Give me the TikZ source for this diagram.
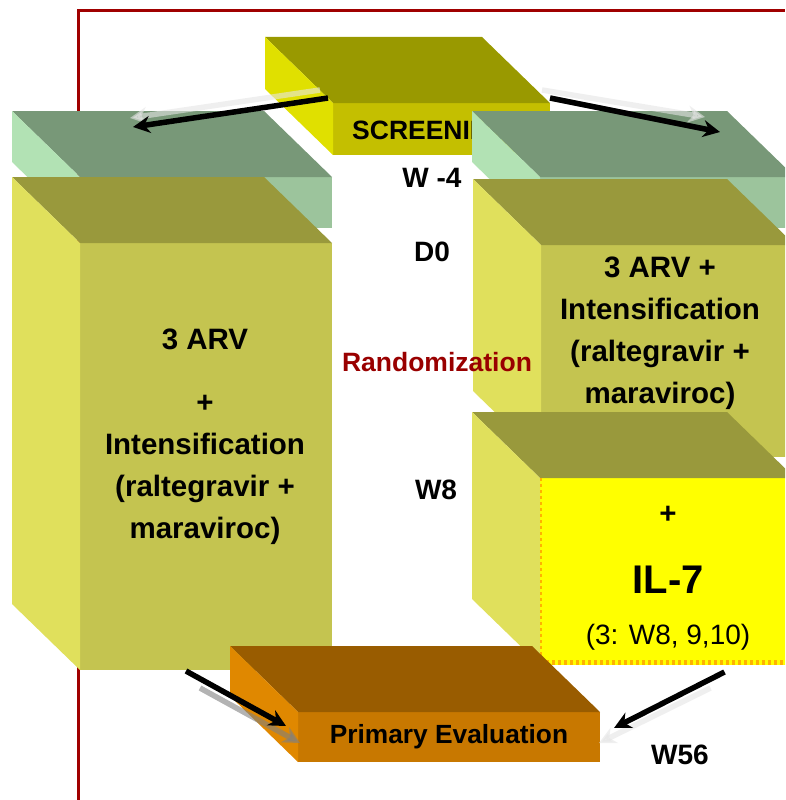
\documentclass[tikz,border=0pt]{standalone}
\usepackage{fontspec}
\setmainfont{Liberation Sans}
\usetikzlibrary{arrows.meta}

\definecolor{frameRed}{HTML}{A00000}
\definecolor{randRed}{HTML}{990000}
\definecolor{scrTop}{HTML}{999900}
\definecolor{scrFront}{HTML}{C4BF00}
\definecolor{scrSide}{HTML}{E0E000}
\definecolor{grnTop}{HTML}{789878}
\definecolor{grnFront}{HTML}{9CC49C}
\definecolor{grnSide}{HTML}{B2E2B4}
\definecolor{olvTop}{HTML}{99993C}
\definecolor{olvFront}{HTML}{C4C450}
\definecolor{olvSide}{HTML}{E0E05C}
\definecolor{ilFront}{HTML}{FFFF00}
\definecolor{brnTop}{HTML}{995C00}
\definecolor{brnFront}{HTML}{C87800}
\definecolor{brnSide}{HTML}{E08800}

% top and left side of a box whose front face is node #1
\newcommand{\cubefaces}[3]{%
  \fill[#2] (#1.north west) -- (#1.north east) -- ++(-68,-66)
    -- ([shift={(-68,-66)}]#1.north west) -- cycle;
  \fill[#3] (#1.north west) -- ([shift={(-68,-66)}]#1.north west)
    -- ([shift={(-68,-66)}]#1.south west) -- (#1.south west) -- cycle;
}

\begin{document}
\begin{tikzpicture}[x=1pt,y=-1pt]
  \tikzstyle{face}=[rectangle, draw=none, inner sep=0pt, outer sep=0pt]
  \tikzstyle{armtext}=[align=center, inner sep=0pt, font=\fontsize{29.5}{42}\selectfont\bfseries]
  \tikzstyle{timelabel}=[inner sep=0pt, font=\fontsize{28}{30}\selectfont\bfseries]
  \tikzstyle{arrow}=[-{Stealth[length=17pt,width=17pt]}, line width=5.5pt, black]
  \tikzstyle{shadowarrow}=[-{Stealth[length=17pt,width=17pt]}, line width=5.5pt, white!80!gray, opacity=0.6]
  \clip (0,0) rectangle (785,800);

  % frame
  \draw[frameRed, line width=3pt] (78,800) -- (78,11) -- (785,11);

  % screening
  \node[face, fill=scrFront, minimum width=217pt, minimum height=52pt] (scr) at (441.5,129) {};
  \cubefaces{scr}{scrTop}{scrSide}
  \node[anchor=west, inner sep=0pt, font=\fontsize{26.5}{30}\selectfont\bfseries] (scrtxt) at (352,130) {SCREENING};

  % run-in boxes
  \node[face, fill=grnFront, minimum width=252pt, minimum height=51pt] (greenL) at (206,202.5) {};
  \cubefaces{greenL}{grnTop}{grnSide}
  \node[face, fill=grnFront, minimum width=255pt, minimum height=51pt] (greenR) at (667.5,202.5) {};
  \cubefaces{greenR}{grnTop}{grnSide}

  % arm A
  \node[face, fill=olvFront, minimum width=252pt, minimum height=427pt] (armA) at (206,456.5) {};
  \cubefaces{armA}{olvTop}{olvSide}
  \node[armtext] (armAtxt) at (205,437) {3 ARV\\[21pt]+\\Intensification\\(raltegravir +\\maraviroc)};

  % arm B
  \node[face, fill=olvFront, minimum width=254pt, minimum height=212pt] (armB) at (668,351) {};
  \cubefaces{armB}{olvTop}{olvSide}
  \node[armtext] (armBtxt) at (660,333) {3 ARV +\\Intensification\\(raltegravir +\\maraviroc)};

  % IL-7
  \node[face, fill=ilFront, minimum width=255pt, minimum height=187pt] (il7) at (667.5,571.5) {};
  \cubefaces{il7}{olvTop}{olvSide}
  \draw[orange!60!yellow, line width=1.5pt, dash pattern=on 3pt off 3pt] ([xshift=1pt]il7.north west) -- ([xshift=1pt]il7.south west);
  \draw[orange!60!yellow, line width=5pt, dash pattern=on 3pt off 3pt] ([yshift=2.5pt]il7.south west) -- ([yshift=2.5pt]il7.south east);
  \node[armtext] (il7plus) at (668,515) {+};
  \node[inner sep=0pt, font=\fontsize{40}{44}\selectfont\bfseries] (il7txt) at (668,580) {IL-7};
  \node[inner sep=0pt, font=\fontsize{28}{30}\selectfont] (il7wk) at (668,637) {(3: W8, 9,10)};

  % primary evaluation
  \node[face, fill=brnFront, minimum width=302pt, minimum height=50pt] (eval) at (449,737) {};
  \cubefaces{eval}{brnTop}{brnSide}
  \node[inner sep=0pt, font=\fontsize{26.3}{30}\selectfont\bfseries] (evaltxt) at (eval.center) {Primary Evaluation};

  % time points
  \node[timelabel] (wm4) at (432,178) {W -4};
  \node[timelabel] (d0) at (432,252) {D0};
  \node[timelabel, text=randRed, font=\fontsize{26.5}{30}\selectfont\bfseries] (rand) at (437,362) {Randomization};
  \node[timelabel] (w8) at (436,490) {W8};
  \node[timelabel] (w56) at (680,755) {W56};

  % arrows
  \path[shadowarrow] ([shift={(-13,-13)}]scr.north west) edge ([shift={(50,-59)}]greenL.north west);
  \path[shadowarrow] ([shift={(-8,-13)}]scr.north east) edge ([shift={(165,-60)}]greenR.north west);
  \path[shadowarrow, gray] ([shift={(-6,18)}]armA.south) edge ([shift={(2,6)}]eval.west);
  \path[shadowarrow] ([shift={(43,23)}]il7.south) edge ([shift={(-1,6)}]eval.east);
  \path[arrow] ([shift={(-5,-5)}]scr.north west) edge ([shift={(53,-50)}]greenL.north west);
  \path[arrow] ([shift={(0,-5)}]scr.north east) edge ([shift={(180,-45)}]greenR.north west);
  \path[arrow] ([shift={(-20,1)}]armA.south) edge ([shift={(-12,-11)}]eval.west);
  \path[arrow] ([shift={(57,7)}]il7.south) edge ([shift={(14,-9)}]eval.east);
\end{tikzpicture}
\end{document}
